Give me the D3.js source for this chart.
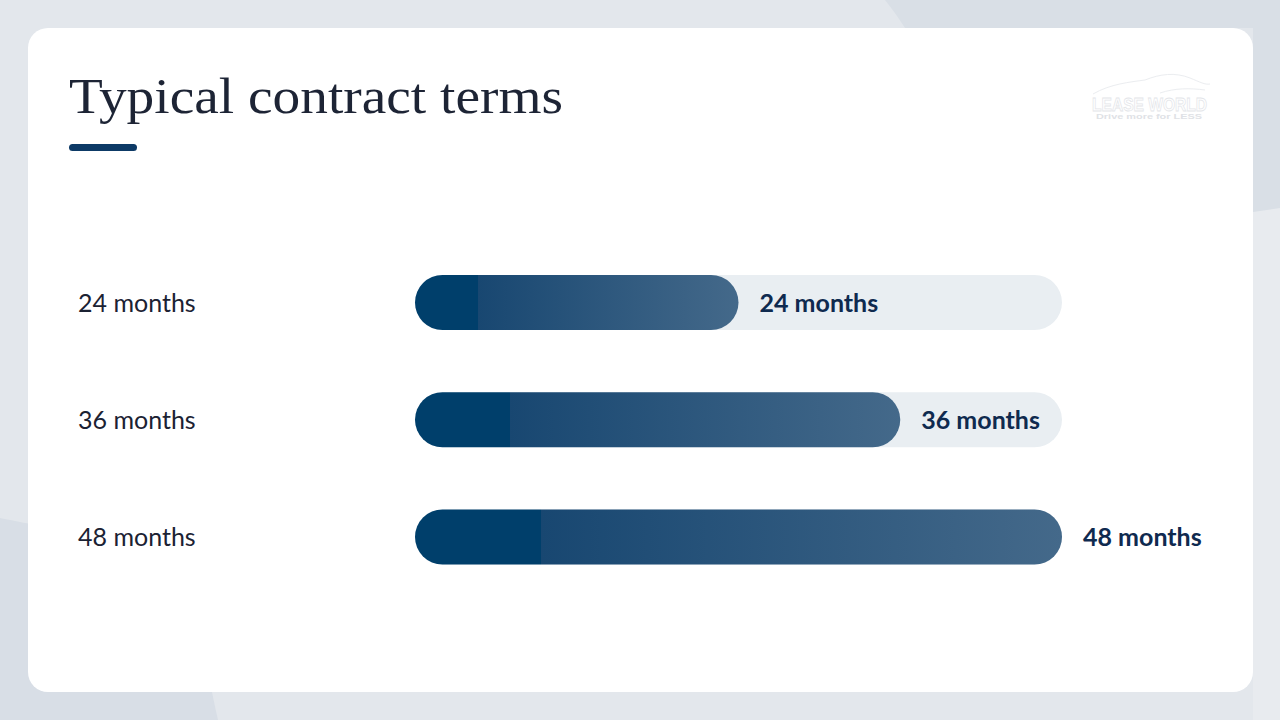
<!DOCTYPE html>
<html><head><meta charset="utf-8">
<script src="https://cdn.jsdelivr.net/npm/d3@7"></script>
<style>html,body{margin:0;padding:0;background:#e3e7ec;}svg{display:block;}</style>
</head><body>
<svg id="c" width="1280" height="720"></svg>
<script>
const categories = ["24 months", "36 months", "48 months"];
const values = [24, 36, 48];
const valueLabels = ["24 months", "36 months", "48 months"];
const maxValue = 48;
const title = "Typical contract terms";

const svg = d3.select("#c");
// background shapes
svg.append("rect").attr("width",1280).attr("height",720).attr("fill","#e3e7ec");
svg.append("path").attr("d","M885,0 L1280,0 L1280,212 L1253,212 L1253,0 Z").attr("fill","#d9dfe6");
svg.append("path").attr("d","M885,0 C893,10 900,20 905,28 L1253,28 L1253,0 Z").attr("fill","#d9dfe6");
svg.append("path").attr("d","M0,518 C60,530 150,545 175,570 C195,600 205,660 218,720 L0,720 Z").attr("fill","#d8dee6");
svg.append("path").attr("d","M1253,212 L1280,208 L1280,720 L1253,720 Z").attr("fill","#e8ebef");

// card
svg.append("rect").attr("x",28).attr("y",28).attr("width",1225).attr("height",664).attr("rx",20).attr("fill","#ffffff");

// title
svg.append("text").attr("x",69).attr("y",113).text(title)
  .attr("font-family","Liberation Serif, serif").attr("font-size",51)
  .attr("fill","#1d2435").attr("textLength",494).attr("lengthAdjust","spacingAndGlyphs");
svg.append("rect").attr("x",69).attr("y",144).attr("width",68).attr("height",7).attr("rx",3.5).attr("fill","#0d3a66");

// logo (faint)
const logo = svg.append("g");
logo.append("path").attr("d","M1093,94 C1110,84 1130,82 1145,80 C1160,74 1175,72 1190,78 C1200,82 1205,85 1210,84 M1160,93 C1175,88 1190,88 1205,90")
  .attr("fill","none").attr("stroke","#ebedf0").attr("stroke-width",1);
logo.append("text").attr("x",1092).attr("y",111).text("LEASE WORLD")
  .attr("font-family","Liberation Sans, sans-serif").attr("font-size",19).attr("font-weight",700)
  .attr("fill","#ffffff").attr("stroke","#e3e5e9").attr("stroke-width",0.8)
  .attr("textLength",115).attr("lengthAdjust","spacingAndGlyphs");
logo.append("text").attr("x",1096).attr("y",119).text("Drive more for LESS")
  .attr("font-family","Liberation Sans, sans-serif").attr("font-size",7).attr("font-weight",700)
  .attr("fill","#e0e2e6").attr("textLength",106).attr("lengthAdjust","spacingAndGlyphs");

// gradient
const defs = svg.append("defs");
const g = defs.append("linearGradient").attr("id","barGrad").attr("x1","0").attr("x2","1").attr("y1","0").attr("y2","0");
[[0,"#003f6b"],[0.195,"#003f6b"],[0.195,"#184771"],[1,"#44698a"]].forEach(([o,c])=>g.append("stop").attr("offset",o).attr("stop-color",c));

const x = d3.scaleLinear().domain([0,maxValue]).range([415,1062]);
const y = d3.scalePoint().domain(categories).range([302.5,537]);
const bh = 55;
const yc = d => y(d);

const rows = svg.append("g").selectAll("g").data(categories).join("g");
rows.append("rect").attr("x",x(0)).attr("y",d=>yc(d)-bh/2).attr("width",x(maxValue)-x(0)).attr("height",bh)
  .attr("rx",bh/2).attr("fill","#e9eef2");
rows.append("rect").attr("x",x(0)).attr("y",d=>yc(d)-bh/2).attr("width",(d,i)=>x(values[i])-x(0)).attr("height",bh)
  .attr("rx",bh/2).attr("fill","url(#barGrad)");
rows.append("text").attr("x",78).attr("y",d=>yc(d)).attr("dy","0.36em").text(d=>d)
  .attr("font-family","Lato, sans-serif").attr("font-size",25).attr("fill","#1b2233");
rows.append("text").attr("x",(d,i)=>x(values[i])+21).attr("y",d=>yc(d)).attr("dy","0.36em").text((d,i)=>valueLabels[i])
  .attr("font-family","Lato, sans-serif").attr("font-size",25).attr("font-weight",700).attr("fill","#0f2a4f");
</script>
</body></html>
